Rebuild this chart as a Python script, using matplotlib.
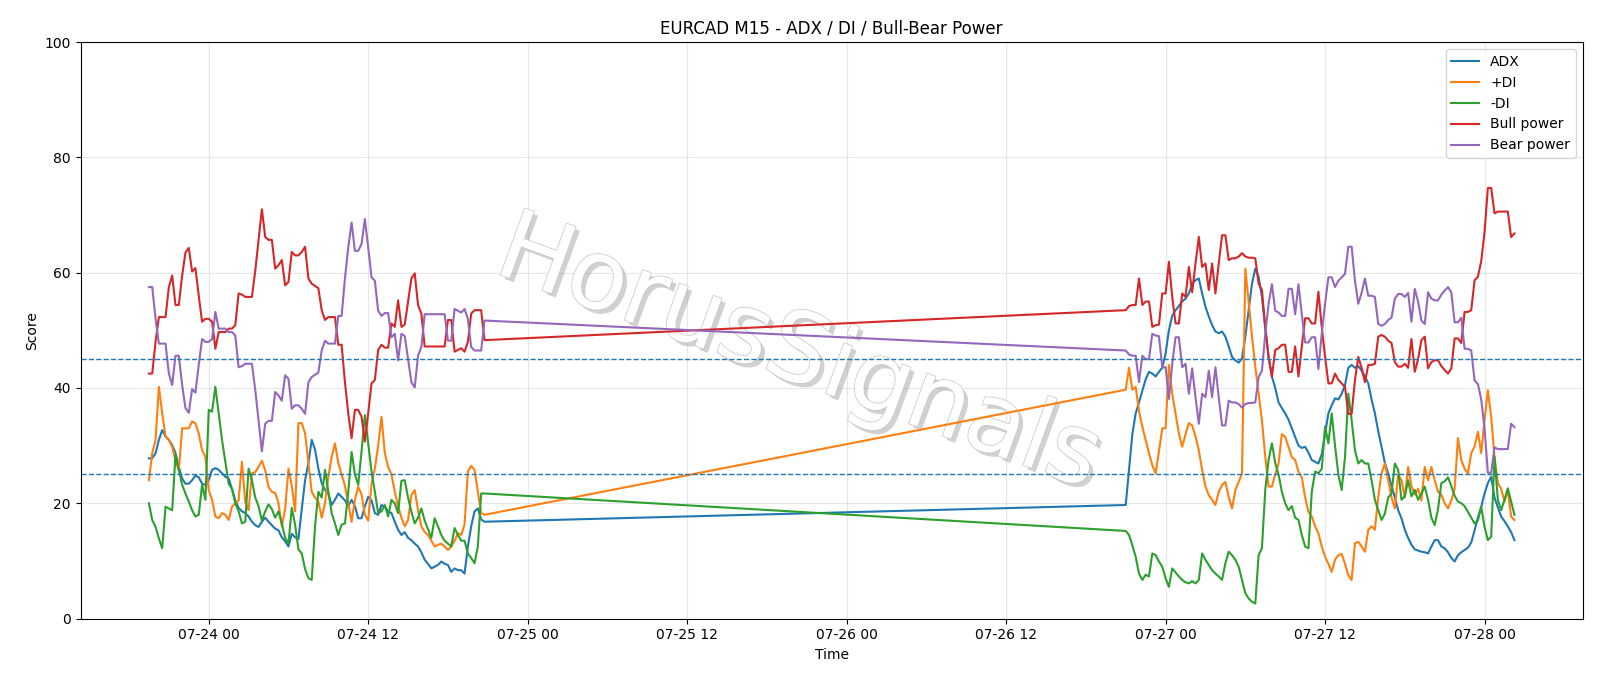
import matplotlib
matplotlib.use("Agg")
import matplotlib.pyplot as plt
import matplotlib.dates as mdates
import matplotlib.patheffects as pe
import pandas as pd

# ---- time axis (two trading sessions, 15-minute bars) ----
seg1_start, seg1_len = "2020-07-23 19:30", 102
seg2_start, seg2_len = "2020-07-26 21:00", 118

# ---- series values ----
adx_s1 = [27.8, 27.8, 28.7, 31, 32.7, 31.6, 31, 30.1, 28.7, 26.3, 24.3, 23.4, 23.4, 24, 24.8, 24.5, 23.4, 23.2, 24, 25.8,
          26.1, 25.8, 25.2, 24.6, 24.3, 22.5, 20.5, 19.2, 18.6, 18.3, 17.7, 16.8, 16.2, 15.9, 16.8, 17.5, 16.8, 16.2, 15.6, 15.3,
          14.1, 13.4, 12.5, 14.7, 14.1, 13.8, 19, 24, 27, 31, 29.3, 26, 23.5, 22.3, 21.7, 19.7, 20.6, 21.7, 21.1, 20.5,
          19.5, 20.6, 19.5, 17.4, 17.4, 19.5, 21.1, 20.5, 18.3, 18, 19.7, 19.4, 18.6, 18.3, 16.8, 15.4, 14.5, 15, 14, 13.6,
          13, 12.5, 11.5, 10.2, 9.5, 8.7, 9, 9.3, 9.9, 9.5, 9.3, 8.1, 8.7, 8.4, 8.4, 7.8, 12.5, 16, 18.6, 19.1,
          17.2, 16.8]
pdi_s1 = [24, 28.7, 31, 40.2, 35.6, 31.6, 31, 29.8, 27.4, 25.7, 33, 33, 33, 34.2, 33.9, 32.1, 29.2, 28.1, 22.3, 20.6,
          17.7, 17.4, 18.3, 18, 17.1, 19.4, 20, 20.5, 27.2, 20.3, 18.8, 25.2, 25.4, 26.3, 27.4, 25.7, 22.8, 22, 21.8, 20,
          16, 19, 26, 23, 18.6, 33.9, 33.9, 32.1, 27, 22, 21, 20.3, 17.5, 20, 24.6, 28, 30.4, 27, 25, 23,
          20, 16.8, 20.6, 22.9, 21.5, 18, 17, 23.4, 26, 30, 35, 28.7, 26.3, 25, 22, 19.5, 17.5, 16, 17.1, 21.4,
          22.3, 18.8, 16, 15, 14.5, 13.5, 12.5, 12.8, 13, 12.5, 11.9, 12.5, 13.5, 14.8, 14.5, 16.3, 25.5, 26.5, 25.8, 22,
          18.3, 18]
mdi_s1 = [20, 17.1, 15.9, 13.9, 12.2, 19.4, 19.1, 18.8, 28.4, 25.8, 23.2, 21.7, 20.3, 18.8, 17.7, 18, 23.2, 20.6, 36.2, 35.9,
          40.2, 35.6, 31, 27.2, 23.4, 22.5, 20, 18.6, 16.5, 16.8, 26, 24, 21, 19.5, 17, 18.6, 19.8, 19, 17.5, 18.6,
          16.5, 14, 13, 19.2, 16.3, 12, 11.3, 8.6, 7, 6.7, 16, 22, 21, 25.8, 22, 18.3, 16.5, 14.5, 16.3, 16.5,
          22, 28.9, 25, 23.2, 29, 35.3, 30.4, 25.5, 22, 18.3, 18.6, 19.7, 17.7, 20.6, 20, 18.3, 23.9, 24, 21, 18.5,
          16.5, 17.5, 19.1, 17, 15.5, 14, 17.4, 16, 14.5, 13.5, 13, 12.5, 15.7, 14.5, 13.5, 13.5, 11.3, 10.5, 9.6, 12.5,
          21.7, 21.7]
bull_s1 = [42.5, 42.5, 48, 52.3, 52.3, 52.3, 57.5, 59.5, 54.4, 54.4, 59.5, 63.5, 64.3, 60.2, 60.8, 56, 51.5, 52, 52, 51.5,
           46.8, 49.7, 49.7, 49.7, 50.3, 50.3, 50.9, 56.4, 56.2, 55.8, 55.8, 55.8, 60.3, 65.7, 71, 66.2, 65.7, 65.7, 60.7, 61.3,
           62.2, 57.8, 58.4, 63.6, 63, 63, 63.6, 64.5, 59, 58.1, 57.7, 57.3, 53.5, 51.8, 52.3, 52.3, 52.3, 47.5, 47.5, 41,
           35.6, 31.3, 36.2, 36.2, 35, 30.7, 35.6, 40.8, 41.4, 46.6, 47.5, 47, 47, 51.2, 50.6, 55.2, 50.6, 51, 55, 59,
           59.9, 54.4, 52.9, 47.2, 47.2, 47.2, 47.2, 47.2, 47.2, 47.2, 51.8, 51.8, 46.3, 46.6, 46.9, 46.3, 48, 52.9, 53.5, 53.5,
           53.5, 48.3]
bear_s1 = [57.5, 57.5, 52, 47.7, 47.7, 47.7, 42.5, 40.5, 45.6, 45.6, 40.5, 36.5, 35.7, 39.8, 39.2, 44, 48.5, 48, 48, 48.5,
           53.2, 50.3, 50.3, 50.3, 49.7, 49.7, 49.1, 43.6, 43.8, 44.2, 44.2, 44.2, 39.7, 34.3, 29, 33.8, 34.3, 34.3, 39.3, 38.7,
           37.8, 42.2, 41.6, 36.4, 37, 37, 36.4, 35.5, 41, 41.9, 42.3, 42.7, 46.5, 48.2, 47.7, 47.7, 47.7, 52.5, 52.5, 59,
           64.4, 68.7, 63.8, 63.8, 65, 69.3, 64.4, 59.2, 58.6, 53.4, 52.5, 53, 53, 48.8, 49.4, 44.8, 49.4, 49, 45, 41,
           40.1, 45.6, 47.1, 52.8, 52.8, 52.8, 52.8, 52.8, 52.8, 52.8, 48.2, 48.2, 53.7, 53.4, 53.1, 53.7, 52, 47.1, 46.5, 46.5,
           46.5, 51.7]

adx_s2 = [19.7, 25.8, 32, 35.6, 37.5, 39.5, 41.5, 42.8, 42.5, 42, 42.8, 43.5, 46, 50, 52.5, 53.5, 54.2, 55, 55.5, 56.4,
          58, 58.7, 59, 56.4, 54.1, 52.4, 50.9, 49.8, 49.5, 49.8, 48.9, 47.2, 45.4, 44.8, 44.4, 45.1, 48.9, 53.5, 58.1, 60.7,
          59.3, 55.8, 50.3, 45.4, 42, 40, 37.5, 36.5, 35.6, 34.5, 33, 31.5, 30, 29.6, 29.8, 28.8, 27.5, 27.2, 26.9, 28.5,
          32, 35.6, 37, 38.2, 38, 39, 40.5, 43.5, 44, 43.5, 43.8, 43, 42, 40.8, 38, 35.6, 32.5, 29.8, 27, 25.2,
          23, 21, 18.8, 17.4, 15.4, 14, 12.8, 12, 11.8, 11.6, 11.5, 11.3, 12.5, 13.6, 13.6, 12.5, 12.2, 11.5, 10.5, 9.9,
          11, 11.5, 11.9, 12.3, 13.2, 15.3, 17.5, 19.4, 21.7, 23.5, 24.6, 21, 19.3, 17.7, 16.9, 16, 15, 13.6]
pdi_s2 = [39.7, 43.5, 39.7, 40.2, 36, 33.3, 31, 28.7, 26.6, 25.2, 29, 33, 33, 44, 39, 35.6, 32.1, 29.8, 32, 33.9,
          33.5, 31.6, 29.2, 25.8, 22.9, 21.4, 20.6, 19.7, 22, 23.2, 23.7, 21.1, 19.1, 22.3, 23.7, 25.2, 60.7, 55, 49, 43.7,
          39, 34.4, 28.1, 22.9, 22.9, 25, 26.9, 32, 31.5, 29.8, 28, 27.5, 25.5, 24.5, 21, 18.5, 17.7, 16, 14.8, 12.5,
          10.7, 9.5, 8.1, 10.2, 11, 11.2, 9.5, 7.5, 6.7, 13.1, 13.3, 12.5, 11.6, 15.4, 16, 15.4, 21.1, 25.2, 26.9, 24,
          21, 19.1, 25, 24, 21, 26.3, 23, 21.5, 22.5, 20.5, 26.3, 24, 26.3, 24, 22, 21.5, 20, 19.1, 20.5, 22.5,
          31.3, 27.5, 26, 25.2, 28.7, 29.8, 32.4, 28.7, 34.5, 39.6, 35, 28, 23.5, 22.5, 20.3, 22.3, 17.7, 17.1]
mdi_s2 = [15.2, 14.5, 12.7, 10.7, 7.8, 6.7, 7.6, 7.3, 11.3, 11, 9.9, 9, 7, 5.5, 8.7, 8, 7.3, 6.7, 6.3, 6.1,
          6.5, 6.1, 6.7, 11.3, 10.2, 9.3, 8.4, 7.8, 7.3, 6.7, 9.6, 11.6, 11, 10.2, 9, 6.7, 4.4, 3.5, 2.9, 2.6,
          11, 12.2, 22.3, 27.5, 30.4, 27, 25, 22, 20, 18.8, 19.5, 17.5, 17.1, 14.5, 12.5, 12.2, 22, 25.5, 25.2, 26,
          33.3, 30.4, 35.6, 30, 25, 22.3, 28, 39, 34.4, 29.2, 26.9, 27.5, 26.9, 26.9, 24, 20.6, 18.8, 17.1, 18.2, 21,
          21.7, 26.9, 25.8, 20.6, 21.2, 24, 21.2, 22.3, 20.6, 21.7, 22.9, 20.6, 17.5, 16.2, 19, 23.5, 23.8, 24.5, 23, 21.3,
          20.3, 20, 19.5, 18.5, 17.5, 16.5, 17, 19.4, 15.9, 13.6, 14.2, 28.1, 20.6, 18.8, 20.6, 22.6, 20.3, 18]
bull_s2 = [53.5, 54.2, 54.4, 54.4, 59, 54.4, 55, 55, 50.6, 50.9, 51, 56.4, 56.4, 61.9, 55.8, 51.2, 51.2, 56.4, 55.8, 61,
           56.6, 61.6, 66.2, 61, 61.6, 57, 61.6, 56.4, 61.6, 66.5, 66.5, 62.2, 62.5, 62.5, 62.8, 63.4, 62.8, 62.6, 62.6, 62.5,
           58.1, 57, 50.6, 45.4, 42, 46.6, 46.9, 47.5, 47.5, 42.8, 42.8, 47.2, 42, 47.2, 52.1, 52.1, 51.2, 51.2, 56.7, 50.6,
           45.4, 40.8, 40.8, 42.5, 41.4, 40.8, 40.2, 35.5, 35.5, 41.4, 45.4, 43.5, 41, 44, 44, 44.2, 48.9, 49.2, 48.9, 48.2,
           47.8, 44.5, 43.7, 43.7, 44.2, 43.5, 48.5, 42.8, 45, 48.3, 48.9, 43.4, 44.5, 44.8, 44.8, 43.8, 43.1, 42.5, 43.4, 48.6,
           48.6, 47.8, 53.2, 53.2, 53.5, 58.7, 59.3, 62, 67, 74.7, 74.7, 70.3, 70.6, 70.6, 70.6, 70.6, 66.2, 66.8]
bear_s2 = [46.5, 45.8, 45.6, 45.6, 41, 45.6, 45, 45, 49.4, 49.1, 49, 43.6, 43.6, 38.1, 44.2, 48.8, 48.8, 43.6, 44.2, 39,
           43.4, 38.4, 33.8, 39, 38.4, 43, 38.4, 43.6, 38.4, 33.5, 33.5, 37.8, 37.5, 37.5, 37.2, 36.6, 37.2, 37.4, 37.4, 37.5,
           41.9, 43, 49.4, 54.6, 58, 53.4, 53.1, 52.5, 52.5, 57.2, 57.2, 52.8, 58, 52.8, 47.9, 47.9, 48.8, 48.8, 43.3, 49.4,
           54.6, 59.2, 59.2, 57.5, 58.6, 59.2, 59.8, 64.5, 64.5, 58.6, 54.6, 56.5, 59, 56, 56, 55.8, 51.1, 50.8, 51.1, 51.8,
           52.2, 55.5, 56.3, 56.3, 55.8, 56.5, 51.5, 57.2, 55, 51.7, 51.1, 56.6, 55.5, 55.2, 55.2, 56.2, 56.9, 57.5, 56.6, 51.4,
           51.4, 52.2, 46.8, 46.8, 46.5, 41.3, 40.7, 38, 33, 25.3, 25.3, 29.7, 29.4, 29.4, 29.4, 29.4, 33.8, 33.2]

thresholds = [25, 45]
series = [("ADX", adx_s1 + adx_s2), ("+DI", pdi_s1 + pdi_s2), ("-DI", mdi_s1 + mdi_s2),
          ("Bull power", bull_s1 + bull_s2), ("Bear power", bear_s1 + bear_s2)]

times = pd.date_range(seg1_start, periods=seg1_len, freq="15min").append(
    pd.date_range(seg2_start, periods=seg2_len, freq="15min"))

fig = plt.figure(figsize=(16, 6.86), dpi=100)
ax = fig.add_axes([0.0504, 0.0983, 0.9388, 0.8403])

for name, vals in series:
    ax.plot(times, vals, label=name, linewidth=1.5)
for th in thresholds:
    ax.axhline(th, linestyle="--", linewidth=1, color="tab:blue")

ax.set_ylim(0, 100)
ax.grid(True, alpha=0.3)
ax.xaxis.set_major_locator(mdates.HourLocator(byhour=[0, 12]))
ax.xaxis.set_major_formatter(mdates.DateFormatter("%m-%d %H"))
ax.set_title("EURCAD M15 - ADX / DI / Bull-Bear Power")
ax.set_xlabel("Time")
ax.set_ylabel("Score")
ax.legend(loc="upper right")

ax.text(0.478, 0.457, "HorusSignals", transform=ax.transAxes, fontsize=70,
        color="white", rotation=-20, ha="center", va="center",
        path_effects=[pe.withSimplePatchShadow(offset=(3, -3), shadow_rgbFace="#999999", alpha=0.45),
                      pe.Stroke(linewidth=1.0, foreground="#c4c4c4"), pe.Normal()], zorder=1.8)

fig.savefig("out.png", dpi=100)
